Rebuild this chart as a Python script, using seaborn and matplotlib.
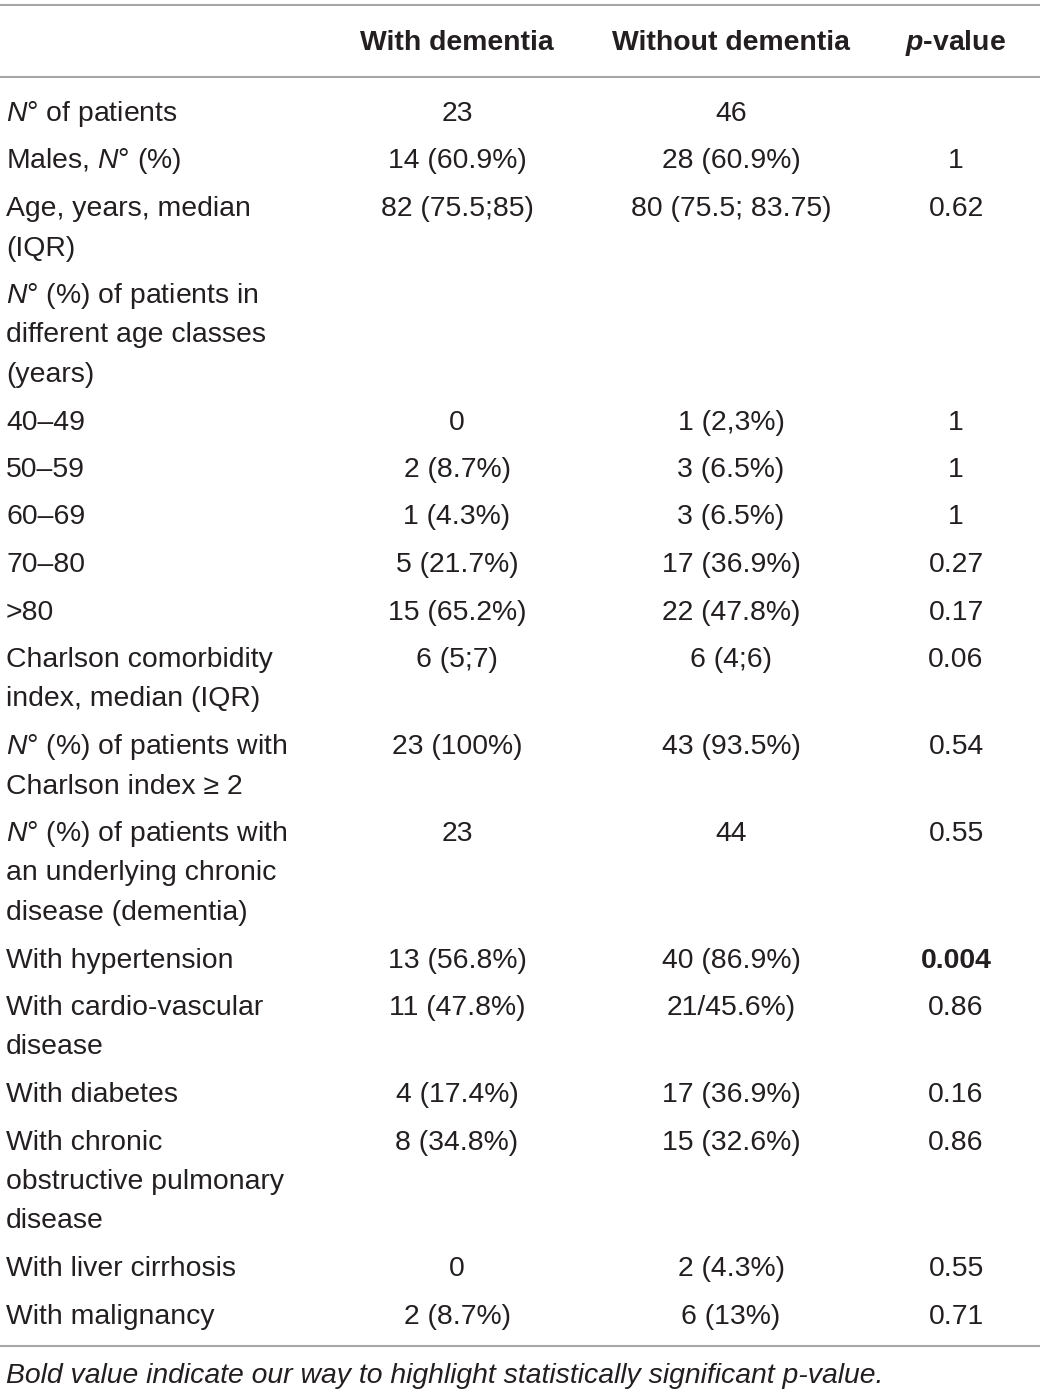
import matplotlib
matplotlib.use("Agg")
import matplotlib.pyplot as plt
import seaborn as sns

# table content
col_headers = ["With dementia", "Without dementia", r"$\mathbfit{p}$-value"]
row_labels = [
    "$N$° of patients",
    "Males, $N$° (%)",
    "Age, years, median\n(IQR)",
    "$N$° (%) of patients in\ndifferent age classes\n(years)",
    "40–49",
    "50–59",
    "60–69",
    "70–80",
    ">80",
    "Charlson comorbidity\nindex, median (IQR)",
    "$N$° (%) of patients with\nCharlson index ≥ 2",
    "$N$° (%) of patients with\nan underlying chronic\ndisease (dementia)",
    "With hypertension",
    "With cardio-vascular\ndisease",
    "With diabetes",
    "With chronic\nobstructive pulmonary\ndisease",
    "With liver cirrhosis",
    "With malignancy",
]
with_dementia = ["23", "14 (60.9%)", "82 (75.5;85)", "", "0", "2 (8.7%)", "1 (4.3%)",
                 "5 (21.7%)", "15 (65.2%)", "6 (5;7)", "23 (100%)", "23", "13 (56.8%)",
                 "11 (47.8%)", "4 (17.4%)", "8 (34.8%)", "0", "2 (8.7%)"]
without_dementia = ["46", "28 (60.9%)", "80 (75.5; 83.75)", "", "1 (2,3%)", "3 (6.5%)",
                    "3 (6.5%)", "17 (36.9%)", "22 (47.8%)", "6 (4;6)", "43 (93.5%)", "44",
                    "40 (86.9%)", "21/45.6%)", "17 (36.9%)", "15 (32.6%)", "2 (4.3%)",
                    "6 (13%)"]
p_values = ["", "1", "0.62", "", "1", "1", "1", "0.27", "0.17", "0.06", "0.54", "0.55",
            "0.004", "0.86", "0.16", "0.86", "0.55", "0.71"]
significant = ["0.004"]
footnote = "Bold value indicate our way to highlight statistically significant p-value."

sns.set_theme(style="white")
plt.rcParams["font.family"] = ["Liberation Sans", "DejaVu Sans"]
plt.rcParams["mathtext.fontset"] = "custom"
plt.rcParams["mathtext.rm"] = "Liberation Sans"
plt.rcParams["mathtext.it"] = "Liberation Sans:italic"
plt.rcParams["mathtext.bf"] = "Liberation Sans:bold"
plt.rcParams["mathtext.bfit"] = "Liberation Sans:italic:bold"

txt = "#231f20"
rule = "#a6a6a6"
fs = 20.4

fig = plt.figure(figsize=(10.4, 13.95), dpi=100)
ax = fig.add_axes([0, 0, 1, 1])
ax.set_xlim(0, 1040)
ax.set_ylim(1395, 0)
ax.axis("off")

col_x = [457, 731, 956]

# rules
for y in [5, 77, 1346]:
    ax.plot([0, 1040], [y, y], color=rule, lw=1.5, solid_capstyle="butt")

# header
for x, h in zip(col_x, col_headers):
    ax.text(x, 43, h, ha="center", va="center", fontsize=fs, fontweight="bold", color=txt)

# body
line_gap, row_gap = 39.5, 47.5
y = 114
for lab, a, b, p in zip(row_labels, with_dementia, without_dementia, p_values):
    lines = lab.split("\n")
    for i, ln in enumerate(lines):
        ax.text(6, y + i * line_gap, ln, ha="left", va="center", fontsize=fs, color=txt)
    ax.text(col_x[0], y, a, ha="center", va="center", fontsize=fs, color=txt)
    ax.text(col_x[1], y, b, ha="center", va="center", fontsize=fs, color=txt)
    ax.text(col_x[2], y, p, ha="center", va="center", fontsize=fs, color=txt,
            fontweight="bold" if p in significant else "normal")
    y += (len(lines) - 1) * line_gap + row_gap

ax.text(6, 1376, footnote, ha="left", va="center", fontsize=fs, style="italic", color=txt)

fig.savefig("out.png", dpi=100)
